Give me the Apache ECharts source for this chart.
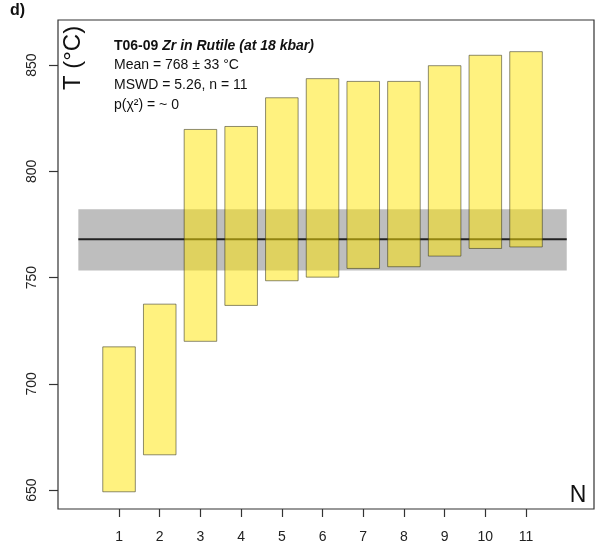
<!DOCTYPE html>
<html>
<head>
<meta charset="utf-8">
<script src="https://cdn.jsdelivr.net/npm/echarts@6/dist/echarts.min.js"></script>
<style>
  html, body { margin: 0; padding: 0; background: #ffffff; }
  #chart { width: 596px; height: 551px; }
</style>
</head>
<body>
<div id="chart"></div>
<script>
// ---- Data ----
const analysisN = [1, 2, 3, 4, 5, 6, 7, 8, 9, 10, 11];
const tempLower = [649.2, 666.6, 720.0, 736.9, 748.5, 750.2, 754.3, 755.1, 760.1, 763.7, 764.4];
const tempUpper = [717.4, 737.5, 819.7, 821.1, 834.6, 843.6, 842.3, 842.3, 849.7, 854.6, 856.3];
const weightedMean = 768;
const meanBandLower = 753.3;
const meanBandUpper = 782.2;
const meanSpan = [0, 12];
const yTickValues = [650, 700, 750, 800, 850];
const xTickValues = [1, 2, 3, 4, 5, 6, 7, 8, 9, 10, 11];
const infoTitleBold = 'T06-09 ';
const infoTitleItalic = 'Zr in Rutile (at 18 kbar)';
const infoLines = ['Mean = 768 ± 33 °C', 'MSWD = 5.26, n = 11', 'p(χ²) = ~ 0'];

const FONT = '"Liberation Sans", Arial, Helvetica, sans-serif';

const barData = analysisN.map((n, i) => [n, tempLower[i], tempUpper[i]]);
const bandData = [[meanSpan[0], meanSpan[1], meanBandLower, meanBandUpper]];
const meanLineData = meanSpan.map(x => [x, weightedMean]);

const chart = echarts.init(document.getElementById('chart'), null, { renderer: 'canvas' });

const option = {
  backgroundColor: '#ffffff',
  animation: false,
  grid: {
    left: 58, right: 2, top: 20, bottom: 42,
    show: true, borderColor: '#333333', borderWidth: 1.2, backgroundColor: 'transparent'
  },
  xAxis: {
    type: 'value',
    min: -0.5, max: 12.67,
    axisLine: { show: false, onZero: false },
    splitLine: { show: false },
    axisTick: { show: true, customValues: xTickValues, length: 8, lineStyle: { color: '#333', width: 1.2 } },
    axisLabel: { show: true, customValues: xTickValues, margin: 21, fontSize: 14, color: '#222', fontFamily: FONT }
  },
  yAxis: {
    type: 'value',
    min: 641.1, max: 871.2,
    axisLine: { show: false, onZero: false },
    splitLine: { show: false },
    axisTick: { show: true, customValues: yTickValues, length: 9, lineStyle: { color: '#333', width: 1.2 } },
    axisLabel: { show: true, customValues: yTickValues, rotate: 90, margin: 19, fontSize: 14, color: '#222', fontFamily: FONT }
  },
  series: [
    {
      type: 'custom',
      z: 1,
      data: bandData,
      renderItem: function (params, api) {
        const p1 = api.coord([api.value(0), api.value(3)]);
        const p2 = api.coord([api.value(1), api.value(2)]);
        return {
          type: 'rect',
          shape: { x: p1[0], y: p1[1], width: p2[0] - p1[0], height: p2[1] - p1[1] },
          style: { fill: '#bebebe' }
        };
      }
    },
    {
      type: 'line',
      z: 2,
      data: meanLineData,
      showSymbol: false,
      symbol: 'none',
      lineStyle: { color: '#222222', width: 2 }
    },
    {
      type: 'custom',
      z: 3,
      data: barData,
      renderItem: function (params, api) {
        const x = api.value(0);
        const p1 = api.coord([x - 0.4, api.value(2)]);
        const p2 = api.coord([x + 0.4, api.value(1)]);
        return {
          type: 'rect',
          shape: { x: p1[0], y: p1[1], width: p2[0] - p1[0], height: p2[1] - p1[1] },
          style: { fill: 'rgba(255,230,0,0.5)', stroke: 'rgba(50,50,30,0.55)', lineWidth: 1 }
        };
      }
    }
  ],
  graphic: [
    {
      type: 'text', left: 10, top: 3,
      style: { text: 'd)', font: 'bold 16px ' + FONT, fill: '#111' }
    },
    {
      type: 'text', x: 73, y: 58, rotation: Math.PI / 2,
      style: { text: 'T (°C)', font: '24px ' + FONT, fill: '#111', align: 'center', verticalAlign: 'middle' }
    },
    {
      type: 'text', x: 578, y: 496,
      style: { text: 'N', font: '23px ' + FONT, fill: '#111', align: 'center', verticalAlign: 'middle' }
    },
    {
      type: 'text', x: 114, y: 46,
      style: {
        text: '{b|' + infoTitleBold + '}{bi|' + infoTitleItalic + '}',
        verticalAlign: 'middle',
        rich: {
          b: { font: 'bold 14px ' + FONT, fill: '#111' },
          bi: { font: 'italic bold 14px ' + FONT, fill: '#111' }
        }
      }
    },
    {
      type: 'text', x: 114, y: 65,
      style: { text: infoLines[0], font: '14px ' + FONT, fill: '#111', verticalAlign: 'middle' }
    },
    {
      type: 'text', x: 114, y: 85,
      style: { text: infoLines[1], font: '14px ' + FONT, fill: '#111', verticalAlign: 'middle' }
    },
    {
      type: 'text', x: 114, y: 105,
      style: { text: infoLines[2], font: '14px ' + FONT, fill: '#111', verticalAlign: 'middle' }
    }
  ]
};

chart.setOption(option);
</script>
</body>
</html>
